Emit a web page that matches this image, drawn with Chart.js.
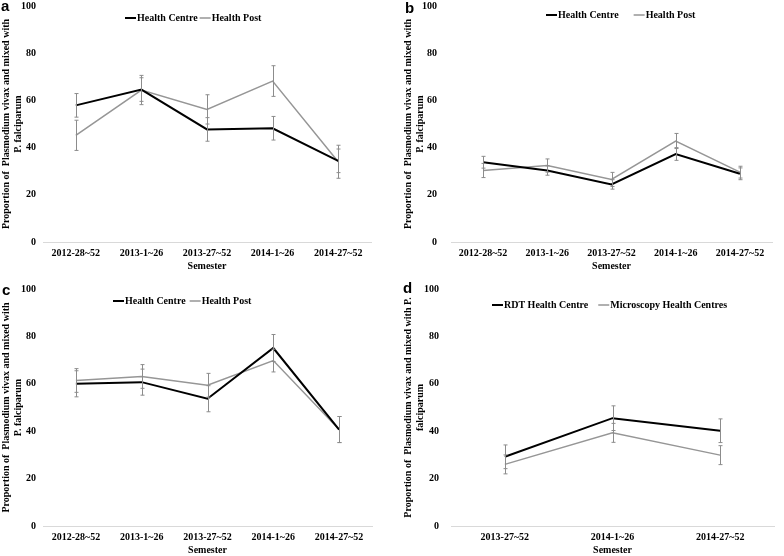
<!DOCTYPE html>
<html>
<head>
<meta charset="utf-8">
<script src="https://cdn.jsdelivr.net/npm/chart.js@4.4.1/dist/chart.umd.min.js"></script>
<style>
    body { margin: 0; background: #fff; }
    #wrap { position: relative; width: 784px; height: 556px; }
    .panel { position: absolute; width: 392px; height: 278px; }
    .tag { position: absolute; font: bold 15px "Liberation Sans", Arial, sans-serif; color: #000; }
</style>
</head>
<body>
<div id="wrap">
    <div class="panel" style="left:0;top:0"><canvas id="chartA"></canvas></div>
    <div class="panel" style="left:392px;top:0"><canvas id="chartB"></canvas></div>
    <div class="panel" style="left:0;top:278px"><canvas id="chartC"></canvas></div>
    <div class="panel" style="left:392px;top:278px"><canvas id="chartD"></canvas></div>
    <div class="tag" style="left:1px;top:-3px">a</div>
    <div class="tag" style="left:405px;top:-1px">b</div>
    <div class="tag" style="left:2px;top:281px">c</div>
    <div class="tag" style="left:403px;top:279px">d</div>
</div>
<script>
// Datos
const semestres = ["2012-28~52", "2013-1~26", "2013-27~52", "2014-1~26", "2014-27~52"];
const semestresD = ["2013-27~52", "2014-1~26", "2014-27~52"];
const yTicks = [0, 20, 40, 60, 80, 100];

// panel a
const aCentre = [57.9, 64.6, 47.7, 48.2, 34.4];
const aCentreErr = [5, 5, 5, 5, 5];
const aPost = [45.2, 64.4, 56.2, 68.2, 34.0];
const aPostErr = [6.4, 6.2, 6.2, 6.5, 7];

// panel b
const bCentre = [33.8, 30.3, 24.4, 37.3, 28.9];
const bCentreErr = [2.5, 2, 2, 2.7, 2.5];
const bPost = [30.3, 32.4, 26.5, 42.8, 29.6];
const bPostErr = [3, 2.8, 3, 3.2, 2.5];

// panel c
const cCentre = [60.0, 60.7, 53.7, 75.1, 40.7];
const cCentreErr = [5.5, 5.5, 5.5, 5.7, 5.5];
const cPost = [61.4, 63.1, 59.4, 69.8, 40.7];
const cPostErr = [5, 5, 5, 4.8, 5.5];

// panel d
const dRdt = [29.2, 45.5, 40.2];
const dRdtErr = [5, 5.2, 5];
const dMicro = [26.0, 39.3, 29.9];
const dMicroErr = [4, 4, 4];

const serif = "'Liberation Serif', 'Times New Roman', serif";
const errColor = "#8c8c8c";

// barras de error dibujadas con las escalas del chart
const errorBarsPlugin = {
    id: "errorBars",
    afterDatasetsDraw(chart) {
        const ctx = chart.ctx;
        const x = chart.scales.x;
        const y = chart.scales.y;
        ctx.save();
        ctx.strokeStyle = errColor;
        ctx.lineWidth = 1;
        chart.data.datasets.forEach(function (ds) {
            if (!ds.errors) return;
            ds.data.forEach(function (v, i) {
                const px = Math.round(x.getPixelForValue(i)) + 0.5;
                const top = y.getPixelForValue(v + ds.errors[i]);
                const bot = y.getPixelForValue(v - ds.errors[i]);
                ctx.beginPath();
                ctx.moveTo(px, top);
                ctx.lineTo(px, bot);
                ctx.moveTo(px - 2, top);
                ctx.lineTo(px + 2, top);
                ctx.moveTo(px - 2, bot);
                ctx.lineTo(px + 2, bot);
                ctx.stroke();
            });
        });
        ctx.restore();
    },
};

// leyenda dentro del área del gráfico, como en la figura original
const insideLegendPlugin = {
    id: "insideLegend",
    afterDraw(chart, args, opts) {
        const ctx = chart.ctx;
        const area = chart.chartArea;
        let cx = area.left + opts.x;
        const cy = area.top + opts.y;
        ctx.save();
        ctx.font = "bold 10px " + serif;
        ctx.textBaseline = "middle";
        chart.data.datasets.forEach(function (ds) {
            ctx.strokeStyle = ds.borderColor;
            ctx.lineWidth = ds.borderWidth;
            ctx.beginPath();
            ctx.moveTo(cx, cy);
            ctx.lineTo(cx + 11, cy);
            ctx.stroke();
            cx += 12;
            ctx.fillStyle = "#000";
            ctx.fillText(ds.label, cx, cy);
            cx += ctx.measureText(ds.label).width + opts.gap;
        });
        ctx.restore();
    },
};

function makeChart(id, labels, series, cfg) {
    const ctx = document.getElementById(id);
    return new Chart(ctx, {
        type: "line",
        data: {
            labels: labels,
            datasets: series.map(function (s) {
                return {
                    label: s.label,
                    data: s.data,
                    errors: s.errors,
                    borderColor: s.color,
                    backgroundColor: s.color,
                    borderWidth: s.width,
                    pointRadius: 0,
                    tension: 0,
                    fill: false,
                };
            }),
        },
        options: {
            responsive: true,
            maintainAspectRatio: false,
            animation: false,
            layout: {
                padding: { left: cfg.padLeft, right: cfg.padRight, top: cfg.padTop, bottom: cfg.padBottom },
            },
            plugins: {
                legend: { display: false },
                tooltip: { enabled: false },
                insideLegend: cfg.legend,
            },
            scales: {
                x: {
                    offset: true,
                    grid: { display: false, drawTicks: false },
                    border: { display: true, color: "#d9d9d9", width: 1 },
                    ticks: {
                        padding: 5,
                        maxRotation: 0,
                        color: "#000",
                        font: { family: serif, size: 10, weight: "bold" },
                    },
                    title: {
                        display: true,
                        text: "Semester",
                        color: "#000",
                        padding: { top: 0, bottom: 0 },
                        font: { family: serif, size: 10, weight: "bold" },
                    },
                    afterFit: function (scale) {
                        scale.height = 30;
                    },
                },
                y: {
                    min: 0,
                    max: 100,
                    afterBuildTicks: function (scale) {
                        scale.ticks = yTicks.map(function (v) {
                            return { value: v };
                        });
                    },
                    // marcas invisibles: solo sirven de separación entre etiquetas y eje
                    grid: {
                        display: false,
                        drawTicks: true,
                        tickLength: cfg.tickGap,
                        tickColor: "rgba(0,0,0,0)",
                    },
                    border: { display: false },
                    ticks: {
                        padding: 0,
                        color: "#000",
                        font: { family: serif, size: 10, weight: "bold" },
                    },
                    title: {
                        display: true,
                        text: cfg.yTitle,
                        color: "#000",
                        padding: { top: 0, bottom: 0 },
                        font: { family: serif, size: 10, weight: "bold", lineHeight: 1.2 },
                    },
                    afterFit: function (scale) {
                        scale.width = cfg.yWidth;
                    },
                },
            },
        },
        plugins: [errorBarsPlugin, insideLegendPlugin],
    });
}

const tituloY = ["Proportion of  Plasmodium vivax and mixed with", "P. falciparum"];
const tituloYD = ["Proportion of  Plasmodium vivax and mixed with P.", "falciparum"];

makeChart("chartA", semestres, [
    { label: "Health Centre", data: aCentre, errors: aCentreErr, color: "#000000", width: 2 },
    { label: "Health Post", data: aPost, errors: aPostErr, color: "#969696", width: 1.5 },
], { padLeft: 0, padRight: 21, padTop: 0, padBottom: 6, tickGap: 7, yWidth: 43, yTitle: tituloY,
     legend: { x: 82, y: 12, gap: 2 } });

makeChart("chartB", semestres, [
    { label: "Health Centre", data: bCentre, errors: bCentreErr, color: "#000000", width: 2 },
    { label: "Health Post", data: bPost, errors: bPostErr, color: "#969696", width: 1.5 },
], { padLeft: 10, padRight: 12, padTop: 0, padBottom: 6, tickGap: 14, yWidth: 49, yTitle: tituloY,
     legend: { x: 95, y: 9, gap: 15 } });

makeChart("chartC", semestres, [
    { label: "Health Centre", data: cCentre, errors: cCentreErr, color: "#000000", width: 2 },
    { label: "Health Post", data: cPost, errors: cPostErr, color: "#969696", width: 1.5 },
], { padLeft: 0, padRight: 20, padTop: 11, padBottom: 0, tickGap: 7, yWidth: 43, yTitle: tituloY,
     legend: { x: 70, y: 12, gap: 4 } });

makeChart("chartD", semestresD, [
    { label: "RDT Health Centre", data: dRdt, errors: dRdtErr, color: "#000000", width: 2 },
    { label: "Microscopy Health Centres", data: dMicro, errors: dMicroErr, color: "#969696", width: 1.5 },
], { padLeft: 10, padRight: 10, padTop: 11, padBottom: 0, tickGap: 12, yWidth: 49, yTitle: tituloYD,
     legend: { x: 41, y: 16, gap: 10 } });
</script>
</body>
</html>
